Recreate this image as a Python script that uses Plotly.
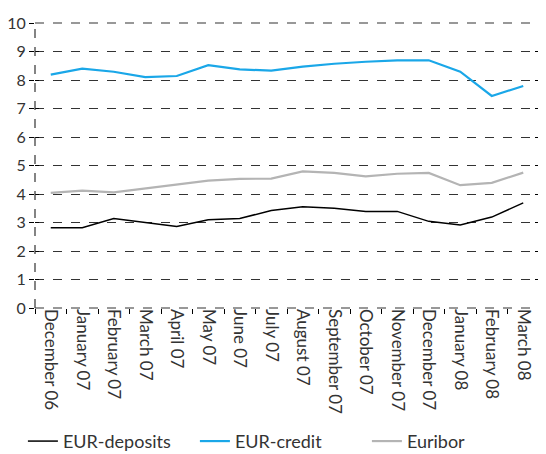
import plotly.graph_objects as go

months = ["December 06", "January 07", "February 07", "March 07", "April 07", "May 07",
          "June 07", "July 07", "August 07", "September 07", "October 07", "November 07",
          "December 07", "January 08", "February 08", "March 08"]
eur_deposits = [2.82, 2.82, 3.14, 2.99, 2.86, 3.10, 3.14, 3.42, 3.55, 3.50, 3.39, 3.39,
                3.04, 2.91, 3.19, 3.69]
eur_credit = [8.19, 8.40, 8.29, 8.10, 8.14, 8.52, 8.37, 8.33, 8.47, 8.57, 8.64, 8.69,
              8.69, 8.29, 7.44, 7.79]
euribor = [4.04, 4.12, 4.06, 4.20, 4.32, 4.47, 4.53, 4.54, 4.79, 4.74, 4.62, 4.71,
           4.74, 4.31, 4.39, 4.75]

FONT = "Lato"
TXT = "#333333"

fig = go.Figure()
fig.add_trace(go.Scatter(x=months, y=eur_deposits, mode="lines", name="EUR-deposits",
                         line=dict(color="#000000", width=1.5)))
fig.add_trace(go.Scatter(x=months, y=eur_credit, mode="lines", name="EUR-credit",
                         line=dict(color="#1aa7e8", width=2.2)))
fig.add_trace(go.Scatter(x=months, y=euribor, mode="lines", name="Euribor",
                         line=dict(color="#b4b4b4", width=2.2)))
# invisible helpers so the tick-only overlay axes are drawn
for ax in ("y2", "y3"):
    fig.add_trace(go.Scatter(x=months, y=euribor, mode="lines", yaxis=ax, opacity=0,
                             showlegend=False, hoverinfo="skip",
                             line=dict(color="rgba(0,0,0,0)")))

fig.update_layout(
    width=538, height=446,
    margin=dict(l=27, r=7, t=15, b=146, autoexpand=False),
    paper_bgcolor="white", plot_bgcolor="white",
    font=dict(family=FONT, color=TXT, size=14),
    showlegend=True,
    legend=dict(orientation="h", x=-0.024, xanchor="left", y=-0.468, yanchor="middle",
                font=dict(size=18, family=FONT, color=TXT),
                itemwidth=30, tracegroupgap=0, entrywidth=127, entrywidthmode="pixels"),
    xaxis=dict(type="category", tickangle=90, tickson="boundaries", automargin=False,
               ticks="outside", ticklen=5, tickcolor="#000000", tickwidth=1,
               showgrid=False, showline=False, zeroline=False,
               tickfont=dict(size=17, family=FONT, color=TXT),
               range=[-0.5, 15.5]),
    yaxis=dict(range=[0, 10], dtick=1, ticks="outside", ticklen=5, tickcolor="#000000",
               automargin=False,
               showgrid=True, gridcolor="#333333", griddash="dash", gridwidth=1.2,
               zeroline=False, showline=False,
               tickfont=dict(size=16, family=FONT, color=TXT)),
    yaxis2=dict(overlaying="y", side="right", range=[0, 10], dtick=1, ticks="inside",
                ticklen=4, tickcolor="#000000", showticklabels=False, showgrid=False,
                zeroline=False, showline=False, automargin=False),
    yaxis3=dict(overlaying="y", side="left", range=[0, 10], dtick=1, ticks="inside",
                ticklen=4, tickcolor="#000000", showticklabels=False, showgrid=False,
                zeroline=False, showline=False, automargin=False),
)

# dashed frame: left, right, top and bottom edges
for xp in (0, 1):
    fig.add_shape(type="line", xref="paper", yref="paper", x0=xp, x1=xp, y0=0, y1=1,
                  line=dict(color="#333333", width=1.2, dash="dash"))
for yp in (0, 1):
    fig.add_shape(type="line", xref="paper", yref="paper", x0=0, x1=1, y0=yp, y1=yp,
                  line=dict(color="#333333", width=1.2, dash="dash"))

fig.write_html("out.html")
